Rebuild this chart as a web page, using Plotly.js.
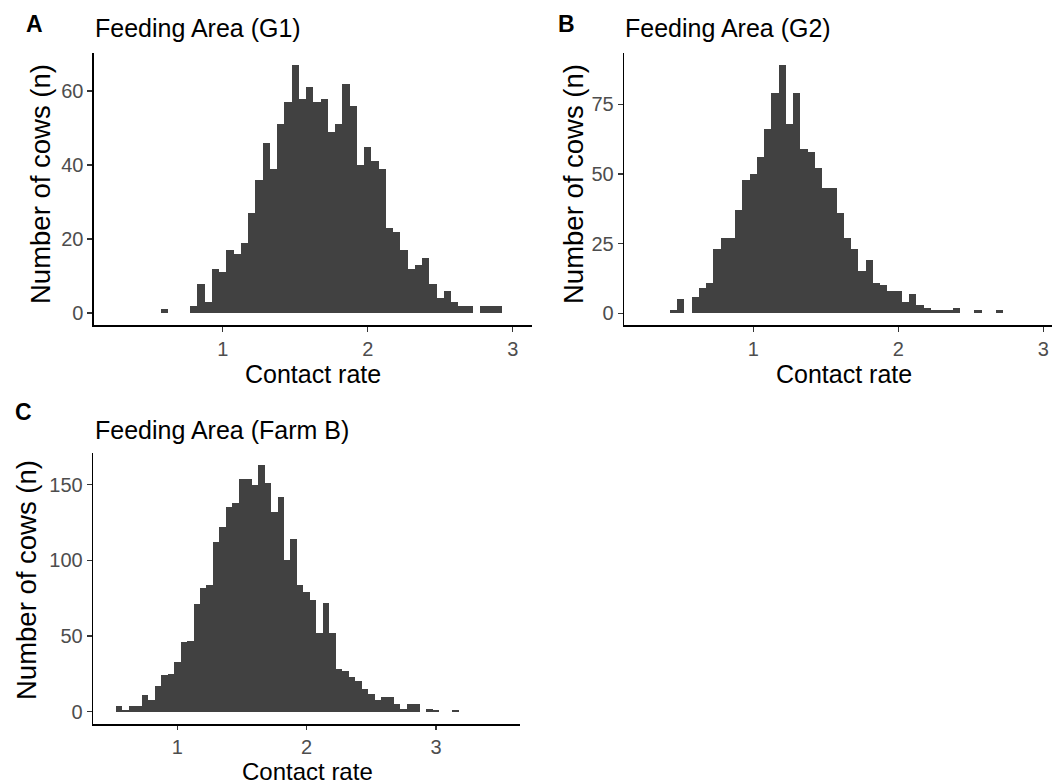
<!DOCTYPE html>
<html>
<head>
<meta charset="utf-8">
<script src="https://cdn.plot.ly/plotly-3.0.1.min.js"></script>
<style>
html,body{margin:0;padding:0;background:#fff;overflow:hidden;}
#chart{width:1052px;height:784px;}
</style>
</head>
<body>
<div id="chart"></div>
<script>
// Panel A: Feeding Area (G1) — bin centres and counts
var binsA = [0.60,0.65,0.70,0.75,0.80,0.85,0.90,0.95,1.00,1.05,1.10,1.15,1.20,1.25,1.30,1.35,1.40,1.45,1.50,1.55,1.60,1.65,1.70,1.75,1.80,1.85,1.90,1.95,2.00,2.05,2.10,2.15,2.20,2.25,2.30,2.35,2.40,2.45,2.50,2.55,2.60,2.65,2.70,2.75,2.80,2.85,2.90];
var countsA = [1,0,0,0,2,8,3,12,11,17,16,19,27,36,46,39,51,57,67,58,61,57,58,49,51,62,56,40,45,41,39,23,22,17,12,13,15,8,4,6,3,2,2,0,2,2,2];

// Panel B: Feeding Area (G2)
var binsB = [0.45,0.50,0.55,0.60,0.65,0.70,0.75,0.80,0.85,0.90,0.95,1.00,1.05,1.10,1.15,1.20,1.25,1.30,1.35,1.40,1.45,1.50,1.55,1.60,1.65,1.70,1.75,1.80,1.85,1.90,1.95,2.00,2.05,2.10,2.15,2.20,2.25,2.30,2.35,2.40,2.45,2.50,2.55,2.60,2.65,2.70];
var countsB = [1,5,0,6,9,11,23,27,27,37,48,50,56,66,79,89,68,79,59,58,52,45,45,36,27,23,15,19,11,10,8,8,4,7,3,2,1,1,1,2,0,0,1,0,0,1];

// Panel C: Feeding Area (Farm B)
var binsC = [0.55,0.60,0.65,0.70,0.75,0.80,0.85,0.90,0.95,1.00,1.05,1.10,1.15,1.20,1.25,1.30,1.35,1.40,1.45,1.50,1.55,1.60,1.65,1.70,1.75,1.80,1.85,1.90,1.95,2.00,2.05,2.10,2.15,2.20,2.25,2.30,2.35,2.40,2.45,2.50,2.55,2.60,2.65,2.70,2.75,2.80,2.85,2.90,2.95,3.00,3.05,3.10,3.15];
var countsC = [4,1,4,4,11,8,17,24,25,33,46,47,71,82,84,112,122,135,138,154,154,150,163,151,132,142,100,114,84,79,74,52,72,52,28,27,23,20,15,12,8,10,10,5,2,5,5,0,2,1,0,0,1];

var xTicks = [1,2,3];
var yTicksA = [0,20,40,60];
var yTicksB = [0,25,50,75];
var yTicksC = [0,50,100,150];

var panelTitles = ["Feeding Area (G1)","Feeding Area (G2)","Feeding Area (Farm B)"];
var panelLetters = ["A","B","C"];
var xTitle = "Contact rate";
var yTitle = "Number of cows (n)";

var BAR = "#414141";
var FONT = "Liberation Sans, Arial, Helvetica, sans-serif";
var W = 1052, H = 784;
function px(v){return v/W;}
function py(v){return 1 - v/H;}

function bar(x, y, xa, ya){
  return {type:"bar", x:x, y:y, width:0.05, xaxis:xa, yaxis:ya,
    marker:{color:BAR, line:{width:0}}, hoverinfo:"x+y"};
}

var data = [
  bar(binsA, countsA, "x", "y"),
  bar(binsB, countsB, "x2", "y2"),
  bar(binsC, countsC, "x3", "y3")
];

function xax(domain, range, anchor, tlen){
  return {domain:domain, range:range, anchor:anchor, tickvals:xTicks,
    showgrid:false, zeroline:false, showline:true, linecolor:"#000", linewidth:1.6,
    ticks:"outside", ticklen:tlen || 5, tickwidth:1.4, tickcolor:"#333",
    tickfont:{family:FONT, size:20, color:"#4D4D4D"}, fixedrange:true};
}
function yax(domain, range, anchor, vals){
  return {domain:domain, range:range, anchor:anchor, tickvals:vals,
    showgrid:false, zeroline:false, showline:true, linecolor:"#000", linewidth:1.6,
    ticks:"outside", ticklen:5, tickwidth:1.4, tickcolor:"#333",
    tickfont:{family:FONT, size:20, color:"#4D4D4D"}, fixedrange:true};
}

var topY = [py(325.3), py(52.7)];
var botY = [py(724), py(452.7)];

function ann(text, x, y, opts){
  var a = {text:text, x:x, y:y, xref:"paper", yref:"paper", showarrow:false,
    xanchor:"center", yanchor:"middle", font:{family:FONT, size:25, color:"#000"}};
  for (var k in opts) a[k] = opts[k];
  return a;
}

var annotations = [
  ann(panelLetters[0], px(24), py(24), {xanchor:"left", font:{family:FONT, size:23, color:"#000"}, text:"<b>A</b>"}),
  ann(panelLetters[1], px(556), py(24), {xanchor:"left", font:{family:FONT, size:23, color:"#000"}, text:"<b>B</b>"}),
  ann(panelLetters[2], px(13), py(412), {xanchor:"left", font:{family:FONT, size:23, color:"#000"}, text:"<b>C</b>"}),
  ann(panelTitles[0], px(93), py(28), {xanchor:"left"}),
  ann(panelTitles[1], px(623), py(28), {xanchor:"left"}),
  ann(panelTitles[2], px(93), py(430), {xanchor:"left"}),
  ann(xTitle, px(313), py(374), {}),
  ann(xTitle, px(844), py(374), {}),
  ann(xTitle, px(307), py(771), {font:{family:FONT, size:24, color:"#000"}}),
  ann(yTitle, px(40), py(184), {textangle:-90, font:{family:FONT, size:27.5, color:"#000"}}),
  ann(yTitle, px(573), py(184), {textangle:-90, font:{family:FONT, size:27.5, color:"#000"}}),
  ann(yTitle, px(26), py(580), {textangle:-90, font:{family:FONT, size:27.5, color:"#000"}})
];

var layout = {
  width:W, height:H, margin:{l:0,r:0,t:0,b:0},
  paper_bgcolor:"#fff", plot_bgcolor:"#fff", showlegend:false, bargap:0,
  font:{family:FONT},
  xaxis: xax([px(94), px(531.7)], [0.112, 3.131], "y"),
  yaxis: yax(topY, [-3.3, 70.4], "x", yTicksA),
  xaxis2: xax([px(624.3), 1], [0.110, 3.060], "y2"),
  yaxis2: yax(topY, [-4.31, 93.51], "x2", yTicksB),
  xaxis3: xax([px(93.3), px(520)], [0.350, 3.650], "y3", 4),
  yaxis3: yax(botY, [-8.15, 171.15], "x3", yTicksC),
  annotations: annotations
};

Plotly.newPlot("chart", data, layout, {displayModeBar:false, staticPlot:true});
</script>
</body>
</html>
